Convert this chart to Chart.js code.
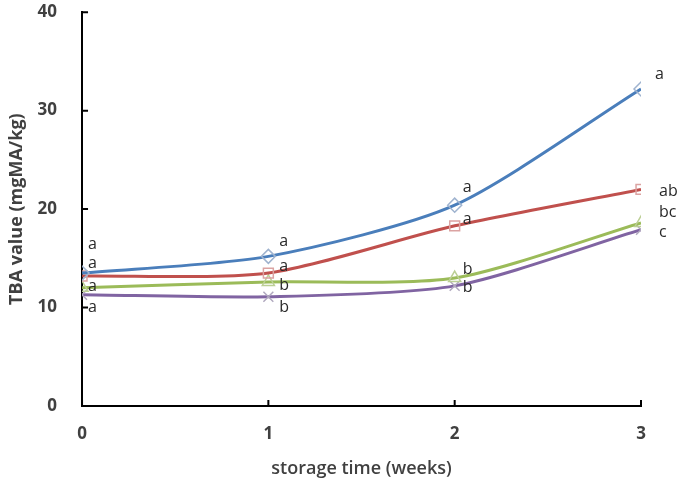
<!DOCTYPE html>
<html><head><meta charset="utf-8">
<script src="https://cdn.jsdelivr.net/npm/chart.js@4/dist/chart.umd.min.js"></script>
<style>html,body{margin:0;padding:0;background:#fff}#wrap{width:677px;height:483px}</style>
</head><body><div id="wrap"><canvas id="c" width="677" height="483"></canvas></div>
<script>
const weeks = [0, 1, 2, 3];
const seriesA = [13.5, 15.2, 20.4, 32.2];
const seriesB = [13.2, 13.5, 18.3, 22.0];
const seriesC = [12.0, 12.6, 13.0, 18.6];
const seriesD = [11.3, 11.1, 12.2, 17.9];
const lettersA = ['a', 'a', 'a', 'a'];
const lettersB = ['a', 'a', 'a', 'ab'];
const lettersC = ['a', 'b', 'b', 'bc'];
const lettersD = ['a', 'b', 'b', 'c'];
const yTicks = [0, 10, 20, 30, 40];

// pixel offsets for the significance letters (style only)
const letterOffsets = [
  [[6,-29],[11,-15],[8,-18],[14,-15]],
  [[6,-13],[11,-7],[8,-6],[18,2]],
  [[6,-1],[11,3],[8,-9],[18,-10]],
  [[6,13],[11,11],[8,2],[18,3]]
];

const lettersAll = [lettersA, lettersB, lettersC, lettersD];

const toXY = arr => arr.map((v, i) => ({x: weeks[i], y: v}));

const lettersPlugin = {
  id: 'letters',
  afterDatasetsDraw(chart) {
    const ctx = chart.ctx;
    const xs = chart.scales.x, ys = chart.scales.y;
    ctx.save();
    ctx.font = '16px "Open Sans", sans-serif';
    ctx.fillStyle = '#2a2a2a';
    ctx.textAlign = 'left';
    ctx.textBaseline = 'middle';
    chart.data.datasets.forEach((ds, si) => {
      ds.data.forEach((p, i) => {
        const off = letterOffsets[si][i];
        ctx.fillText(lettersAll[si][i], xs.getPixelForValue(p.x) + off[0], ys.getPixelForValue(p.y) + off[1]);
      });
    });
    ctx.restore();
  }
};

const innerTicks = {
  id: 'innerTicks',
  afterDraw(chart) {
    const ctx = chart.ctx;
    const xs = chart.scales.x, ys = chart.scales.y;
    const ca = chart.chartArea;
    ctx.save();
    ctx.strokeStyle = '#000';
    ctx.lineWidth = 2;
    ctx.beginPath();
    yTicks.forEach(v => { const y = ys.getPixelForValue(v); ctx.moveTo(ca.left, y); ctx.lineTo(ca.left + 6, y); });
    weeks.forEach(v => { const x = xs.getPixelForValue(v); ctx.moveTo(x, ca.bottom); ctx.lineTo(x, ca.bottom - 6); });
    ctx.stroke();
    ctx.restore();
  }
};

const mk = (data, color, pColor, style) => ({
  data: toXY(data), borderColor: color, borderWidth: 3, tension: 0.25,
  pointStyle: style, pointRadius: 7, pointBorderColor: pColor, pointBorderWidth: 1.5,
  pointBackgroundColor: 'rgba(0,0,0,0)', fill: false
});

const tickFont = {family: '"Open Sans", sans-serif', size: 17, weight: 'bold'};

new Chart(document.getElementById('c'), {
  type: 'line',
  data: {
    datasets: [
      mk(seriesA, '#4a7ebb', '#9fb3cf', 'rectRot'),
      mk(seriesB, '#c0504d', '#dba3a2', 'rect'),
      mk(seriesC, '#9bbb59', '#bccf95', 'triangle'),
      mk(seriesD, '#8064a2', '#b0a8be', 'crossRot')
    ]
  },
  options: {
    responsive: false, animation: false,
    layout: {padding: {left: 6, right: 36, top: 0, bottom: 3}},
    plugins: {legend: {display: false}, tooltip: {enabled: false}},
    scales: {
      x: {
        type: 'linear', min: 0, max: 3,
        afterBuildTicks: s => { s.ticks = weeks.map(v => ({value: v})); },
        grid: {display: true, drawOnChartArea: false, drawTicks: true, tickLength: 16, tickColor: 'rgba(0,0,0,0)'},
        border: {color: '#000', width: 2},
        ticks: {padding: 2, color: '#404040', font: tickFont},
        title: {display: true, text: 'storage time (weeks)', color: '#404040', padding: {top: 12, bottom: 0},
                font: {family: '"Open Sans", sans-serif', size: 18, weight: '600'}}
      },
      y: {
        type: 'linear', min: 0, max: 40,
        afterBuildTicks: s => { s.ticks = yTicks.map(v => ({value: v})); },
        grid: {display: true, drawOnChartArea: false, drawTicks: true, tickLength: 23, tickColor: 'rgba(0,0,0,0)'},
        border: {color: '#000', width: 2},
        ticks: {padding: 2, color: '#404040', font: tickFont},
        title: {display: true, text: 'TBA value (mgMA/kg)', color: '#404040', padding: {top: 0, bottom: 8},
                font: {family: '"Open Sans", sans-serif', size: 18, weight: 'bold'}}
      }
    }
  },
  plugins: [lettersPlugin, innerTicks]
});
</script></body></html>
